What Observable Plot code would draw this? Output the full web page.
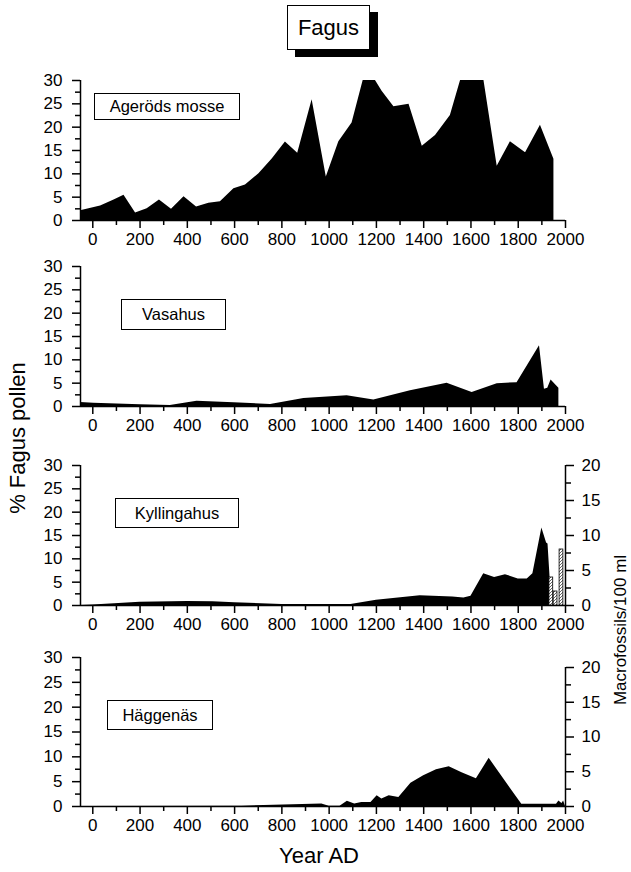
<!DOCTYPE html>
<html><head><meta charset="utf-8">
<script src="https://cdn.jsdelivr.net/npm/d3@7"></script>
<script src="https://cdn.jsdelivr.net/npm/@observablehq/plot@0.6"></script>
<style>
body{margin:0;background:#fff;}
#chart{position:relative;width:631px;height:872px;background:#fff;font-family:"Liberation Sans",Arial,sans-serif;color:#000;overflow:hidden}
.panel{position:absolute;left:0}
.lab{position:absolute;border:1px solid #000;background:#fff;font-size:16.5px;display:flex;align-items:center;justify-content:center;box-sizing:border-box;white-space:nowrap}
.rot{position:absolute;transform:translate(-50%,-50%) rotate(-90deg);white-space:nowrap}
#title{position:absolute;left:287px;top:5px;width:83px;height:45px;border:1.5px solid #000;box-sizing:border-box;background:#fff;box-shadow:8px 7px 0 #000;font-size:22px;display:flex;align-items:center;justify-content:center}
#xtitle{position:absolute;left:319px;top:856px;transform:translate(-50%,-50%);font-size:22px;white-space:nowrap}
</style></head>
<body>
<div id="chart">
  <div id="title">Fagus</div>
  <div class="rot" style="left:18px;top:438px;font-size:22px">% Fagus pollen</div>
  <div class="rot" style="left:621px;top:630px;font-size:17px">Macrofossils/100 ml</div>
  <div id="xtitle">Year AD</div>
</div>
<script>
// ---- data ----
const siteNames = ["Ageröds mosse", "Vasahus", "Kyllingahus", "Häggenäs"];

const agerodsYear = [-52, 33, 90, 132, 181, 230, 282, 333, 386, 439, 491, 540, 597, 646, 703, 759, 815, 867, 928, 988, 1041, 1097, 1144, 1196, 1224, 1274, 1338, 1394, 1450, 1513, 1556, 1655, 1711, 1767, 1831, 1894, 1951];
const agerodsPct  = [2.1, 3.1, 4.4, 5.4, 1.6, 2.5, 4.4, 2.4, 5.1, 2.9, 3.7, 4.0, 6.8, 7.6, 10.0, 13.2, 16.8, 14.4, 25.9, 9.3, 16.9, 20.9, 30, 30, 27.7, 24.4, 24.9, 15.9, 18.2, 22.5, 30, 30, 11.6, 16.9, 14.5, 20.4, 13.1];

const vasahusYear = [-52, 4, 201, 328, 441, 597, 752, 893, 1076, 1189, 1344, 1499, 1605, 1711, 1795, 1890, 1911, 1925, 1939, 1972];
const vasahusPct  = [0.86, 0.7, 0.36, 0.2, 1.15, 0.8, 0.43, 1.7, 2.3, 1.4, 3.4, 5.0, 3.0, 4.9, 5.1, 13.0, 3.7, 3.9, 5.7, 3.9];

const kyllingYear = [-52, 0, 92, 200, 400, 508, 600, 800, 1092, 1200, 1385, 1523, 1570, 1600, 1654, 1700, 1746, 1800, 1838, 1862, 1900, 1920, 1926, 1942];
const kyllingPct  = [0, 0.1, 0.36, 0.7, 0.86, 0.8, 0.6, 0.2, 0.2, 1.1, 2.1, 1.8, 1.6, 2.0, 6.8, 6.0, 6.6, 5.7, 5.7, 6.8, 16.6, 13.4, 13.2, 0];
const kyllingMacroYear  = [1940, 1958, 1983];
const kyllingMacroCount = [4, 2, 8];

const haggenasYear = [-52, 631, 969, 1000, 1046, 1077, 1108, 1138, 1177, 1203, 1223, 1254, 1295, 1346, 1400, 1454, 1508, 1562, 1623, 1677, 1815, 1962, 1972, 1985, 1992, 2000];
const haggenasPct  = [0, 0.07, 0.5, 0.07, 0.07, 1.08, 0.5, 0.8, 0.8, 2.15, 1.5, 2.15, 1.8, 4.7, 6.2, 7.4, 8.0, 6.8, 5.6, 9.7, 0.43, 0.43, 1.1, 0.6, 1.1, 0];

const pctTicks = [0, 5, 10, 15, 20, 25, 30];
const macroTicks = [0, 5, 10, 15, 20];
const yearTicks = [0, 200, 400, 600, 800, 1000, 1200, 1400, 1600, 1800, 2000];

// ---- drawing ----
const X_DOMAIN = [-52, 2000];
const chart = document.getElementById("chart");
const FONT = "'Liberation Sans', Arial, sans-serif";
const FS = 17;

function panel({name, years, pct, plotTop, plotBottom, macro, macroTop, box}) {
  const mT = 12, mB = 40;
  const h = plotBottom - plotTop;
  const data = years.map((y, i) => ({year: y, pct: pct[i]}));
  const marks = [
    Plot.areaY(data, {x: "year", y: "pct", fill: "black", curve: "linear"}),
    Plot.ruleX([X_DOMAIN[0]], {stroke: "black", strokeWidth: 1.5}),
    Plot.ruleY([0], {stroke: "black", strokeWidth: 1.5}),
    Plot.axisY({ticks: pctTicks, tickSize: 8, tickPadding: 10, fontSize: FS, strokeWidth: 1.5, label: null, tickFormat: d => String(d)}),
    Plot.axisY({ticks: d3.range(2.5, 30, 5), tickSize: 5, tickFormat: () => "", strokeWidth: 1.5, label: null}),
    Plot.axisX({ticks: yearTicks, tickSize: 8, tickPadding: 4, fontSize: FS, tickFormat: d => String(d), strokeWidth: 1.5, label: null}),
    Plot.axisX({ticks: d3.range(100, 2000, 200), tickSize: 5, tickFormat: () => "", strokeWidth: 1.5, label: null})
  ];
  if (macro) {
    // right axis: macro value 20 sits at macroTop px
    const k = ((plotBottom - macroTop) / h * 30) / 20;
    const mdata = macro.years.map((y, i) => ({year: y, n: macro.counts[i]}));
    marks.push(
      Plot.rectY(mdata, {x1: d => d.year - 8, x2: d => d.year + 8, y1: 0, y2: d => d.n * k, fill: "url(#hatch)", stroke: "black", strokeWidth: 0.8}),
      Plot.ruleX([2000], {y1: 0, y2: 20 * k, stroke: "black", strokeWidth: 1.5}),
      Plot.axisY({anchor: "right", ticks: macroTicks.map(v => v * k), tickFormat: d => String(Math.round(d / k)), tickSize: 8, tickPadding: 8, fontSize: FS, strokeWidth: 1.5, label: null}),
      Plot.axisY({anchor: "right", ticks: d3.range(2.5, 20, 5).map(v => v * k), tickFormat: () => "", tickSize: 5, strokeWidth: 1.5, label: null})
    );
  }
  const svg = Plot.plot({
    width: 631,
    height: h + mT + mB,
    marginLeft: 80,
    marginRight: 66,
    marginTop: mT,
    marginBottom: mB,
    x: {domain: X_DOMAIN},
    y: {domain: [0, 30]},
    style: {background: "transparent", color: "black", fontFamily: FONT, overflow: "visible"},
    marks
  });
  if (macro) {
    const defs = d3.select(svg).insert("defs", ":first-child");
    const p = defs.append("pattern").attr("id", "hatch").attr("patternUnits", "userSpaceOnUse")
      .attr("width", 3).attr("height", 3);
    p.append("rect").attr("width", 3).attr("height", 3).attr("fill", "white");
    p.append("path").attr("d", "M-1,1 l2,-2 M0,3 l3,-3 M2,4 l2,-2").attr("stroke", "black").attr("stroke-width", 0.6);
  }
  const wrap = document.createElement("div");
  wrap.className = "panel";
  wrap.style.top = (plotTop - mT) + "px";
  wrap.appendChild(svg);
  chart.appendChild(wrap);
  const lab = document.createElement("div");
  lab.className = "lab";
  lab.textContent = name;
  Object.assign(lab.style, {left: box[0] + "px", top: box[1] + "px", width: box[2] + "px", height: box[3] + "px"});
  chart.appendChild(lab);
}

panel({name: siteNames[0], years: agerodsYear, pct: agerodsPct, plotTop: 80, plotBottom: 220, box: [94, 93, 146, 27]});
panel({name: siteNames[1], years: vasahusYear, pct: vasahusPct, plotTop: 266, plotBottom: 406, box: [121, 299, 105, 31]});
panel({name: siteNames[2], years: kyllingYear, pct: kyllingPct, plotTop: 465, plotBottom: 605, macroTop: 465,
       macro: {years: kyllingMacroYear, counts: kyllingMacroCount}, box: [115, 498, 124, 30]});
panel({name: siteNames[3], years: haggenasYear, pct: haggenasPct, plotTop: 657, plotBottom: 806, macroTop: 667,
       macro: {years: [], counts: []}, box: [107, 700, 106, 30]});
</script>
</body></html>
